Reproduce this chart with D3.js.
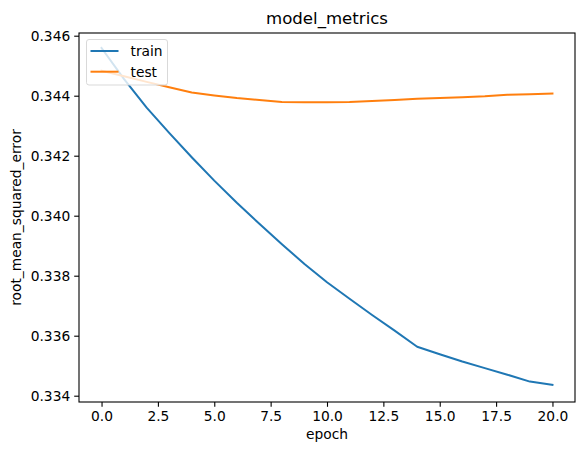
<!DOCTYPE html>
<html>
<head>
<meta charset="utf-8">
<script src="https://cdn.jsdelivr.net/npm/d3@7"></script>
<style>
  body { margin: 0; background: #fff; }
  svg { display: block; font-family: "DejaVu Sans", sans-serif; }
</style>
</head>
<body>
<div id="container"></div>
<script>
// data
const epochs = [0,1,2,3,4,5,6,7,8,9,10,11,12,13,14,15,16,17,18,19,20]
const train = [0.34559,0.34455,0.34360,0.34276,0.34195,0.34117,0.34043,0.33973,0.33905,0.33839,0.33778,
               0.33723,0.33669,0.33617,0.33563,0.33538,0.33514,0.33492,0.33470,0.33447,0.33436]
const test = [0.34483,0.34465,0.34446,0.34428,0.34411,0.34401,0.34392,0.34386,0.34379,0.34378,0.34378,
              0.34379,0.34382,0.34386,0.34390,0.34392,0.34395,0.34398,0.34403,0.34405,0.34407]
const xTicks = [0, 2.5, 5, 7.5, 10, 12.5, 15, 17.5, 20]
const yTicks = [0.334, 0.336, 0.338, 0.340, 0.342, 0.344, 0.346]
const xLimits = [-1, 21]
const yLimits = [0.33379, 0.34609]
const seriesNames = ['train', 'test']
const colors = ['#1f77b4', '#ff7f0e']

const W = 584, H = 455
const margin = {top: 33, right: 9, bottom: 53, left: 79}
const width = W - margin.left - margin.right
const height = H - margin.top - margin.bottom

const svg = d3.select('#container').append('svg')
  .attr('width', W).attr('height', H)

const g = svg.append('g').attr('transform', `translate(${margin.left},${margin.top})`)

const x = d3.scaleLinear().domain(xLimits).range([0, width])
const y = d3.scaleLinear().domain(yLimits).range([height, 0])

// axes
const xAxis = g.append('g')
  .attr('transform', `translate(0,${height})`)
  .call(d3.axisBottom(x).tickValues(xTicks).tickFormat(d3.format('.1f')).tickSize(4.8).tickPadding(4))
const yAxis = g.append('g')
  .call(d3.axisLeft(y).tickValues(yTicks).tickFormat(d3.format('.3f')).tickSize(4.8).tickPadding(4))

;[xAxis, yAxis].forEach(a => {
  a.select('.domain').remove()
  a.selectAll('line').attr('stroke', '#000').attr('stroke-width', 1.1)
  a.selectAll('text').attr('fill', '#000').style('font-size', '13.8px').style('font-family', '"DejaVu Sans", sans-serif')
})

// lines
const line = d3.line().x((d, i) => x(epochs[i])).y(d => y(d))
const series = [train, test]
series.forEach((s, k) => {
  g.append('path')
    .datum(s)
    .attr('fill', 'none')
    .attr('stroke', colors[k])
    .attr('stroke-width', 2)
    .attr('stroke-linejoin', 'round')
    .attr('stroke-linecap', 'square')
    .attr('d', line)
})

// frame
g.append('rect')
  .attr('width', width).attr('height', height)
  .attr('fill', 'none').attr('stroke', '#000').attr('stroke-width', 1.1)

// title and labels
svg.append('text')
  .attr('x', margin.left + width / 2).attr('y', 24)
  .attr('text-anchor', 'middle')
  .style('font-size', '16.6px')
  .text('model_metrics')

svg.append('text')
  .attr('x', margin.left + width / 2).attr('y', 439)
  .attr('text-anchor', 'middle')
  .style('font-size', '13.8px')
  .text('epoch')

svg.append('text')
  .attr('transform', `translate(20.5,${margin.top + height / 2}) rotate(-90)`)
  .attr('text-anchor', 'middle')
  .style('font-size', '13.8px')
  .text('root_mean_squared_error')

// legend
const legend = g.append('g').attr('transform', 'translate(7.5,6.5)')
legend.append('rect')
  .attr('width', 81).attr('height', 45.5)
  .attr('rx', 2.5)
  .attr('fill', 'rgba(255,255,255,0.8)')
  .attr('stroke', '#d9d9d9').attr('stroke-width', 1)
seriesNames.forEach((name, k) => {
  const ly = 11.5 + k * 20.7
  legend.append('line')
    .attr('x1', 4).attr('x2', 32).attr('y1', ly).attr('y2', ly)
    .attr('stroke', colors[k]).attr('stroke-width', 2)
  legend.append('text')
    .attr('x', 44).attr('y', ly + 5)
    .style('font-size', '13.8px')
    .text(name)
})
</script>
</body>
</html>
